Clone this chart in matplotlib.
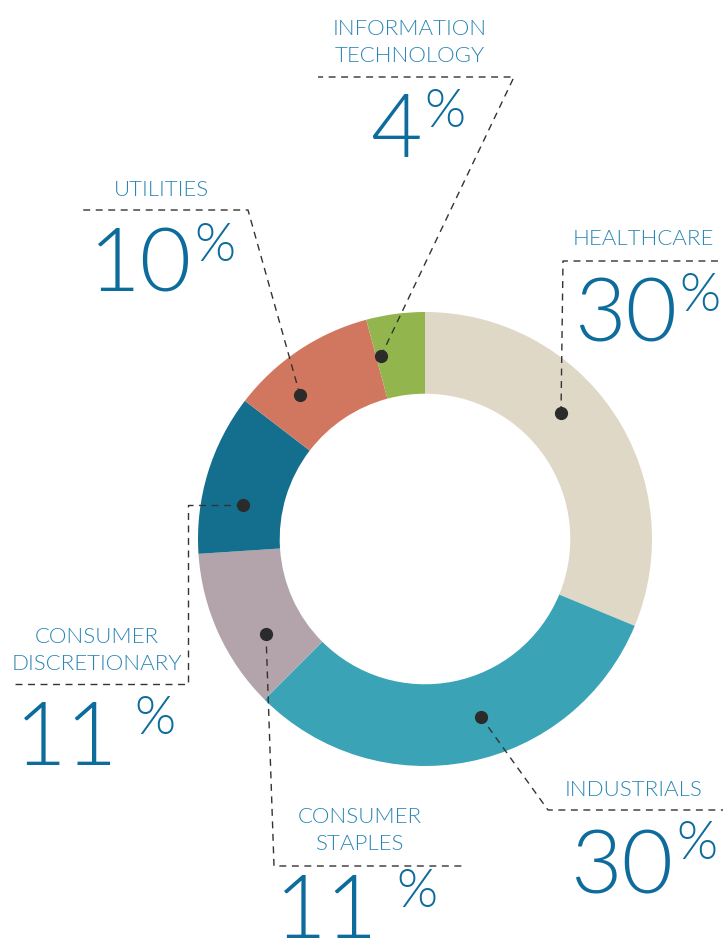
import matplotlib
matplotlib.use("Agg")
import matplotlib.pyplot as plt

# ---- data ----
sectors = ["HEALTHCARE", "INDUSTRIALS", "CONSUMER\nSTAPLES", "CONSUMER\nDISCRETIONARY",
           "UTILITIES", "INFORMATION\nTECHNOLOGY"]
values = [30, 30, 11, 11, 10, 4]
value_labels = ["30", "30", "11", "11", "10", "4"]
colors = ["#e0d8c6", "#3aa3b6", "#b3a3aa", "#146f8f", "#d2775f", "#93b54e"]

W, H = 723, 944
fig = plt.figure(figsize=(W / 100, H / 100), dpi=100)

# donut axes (center 425,539 px; radius 227 px)
cx, cy, R = 425, 539, 227
pax = fig.add_axes([(cx - R) / W, (H - cy - R) / H, 2 * R / W, 2 * R / H])
pax.pie(values, colors=colors, startangle=90, counterclock=False,
        radius=1.0, wedgeprops=dict(width=0.36, linewidth=0))
pax.set_xlim(-1, 1)
pax.set_ylim(-1, 1)
pax.set_aspect("equal")
pax.axis("off")

# overlay axes in pixel coordinates
ax = fig.add_axes([0, 0, 1, 1])
ax.set_xlim(0, W)
ax.set_ylim(H, 0)
ax.axis("off")
ax.patch.set_alpha(0)

FONT = ["Lato", "DejaVu Sans"]
LAB_C = "#2a86b5"
NUM_C = "#0d6c9c"
line_kw = dict(color="#333333", lw=1.0, ls=(0, (5, 4)), zorder=3)

# leader lines: first point is the dot on the ring
leaders = [
    [(561, 413), (563, 261), (723, 261)],             # healthcare
    [(481, 717), (548, 810), (723, 810)],             # industrials
    [(266, 634), (274, 866), (462, 866)],             # consumer staples
    [(243, 505), (188, 505), (188, 684), (10, 684)],  # consumer discretionary
    [(300, 395), (248, 210), (83, 210)],              # utilities
    [(381, 356), (514, 77), (318, 77)],               # IT
]
for pts in leaders:
    xs = [p[0] for p in pts]
    ys = [p[1] for p in pts]
    ax.plot(xs, ys, **line_kw)
    ax.plot(xs[0], ys[0], "o", color="#2b2b2b", ms=8.5, zorder=4)

# labels: (center x, top y)
label_pos = [(643, 229), (634, 780), (360, 807), (97, 627), (162, 180), (410, 19)]
for name, (x, y) in zip(sectors, label_pos):
    ax.text(x, y, name, ha="center", va="top", fontsize=16, color=LAB_C,
            family=FONT, fontweight=300, linespacing=1.45, multialignment="center")

# big numbers: digits right edge + baseline; percent left edge + baseline
num_pos = [(677, 341, 679, 311), (673, 893, 676, 859), (378, 938, 396, 907),
           (118, 765, 134, 734), (192, 292, 194, 261), (422, 157, 424, 127)]
for lab, (dx, dy, px, py) in zip(value_labels, num_pos):
    ax.text(dx, dy, lab, ha="right", va="baseline", fontsize=64, color=NUM_C,
            family=FONT, fontweight=300)
    ax.text(px, py, "%", ha="left", va="baseline", fontsize=38, color=NUM_C,
            family=FONT, fontweight=300)

fig.savefig("out.png", dpi=100)
